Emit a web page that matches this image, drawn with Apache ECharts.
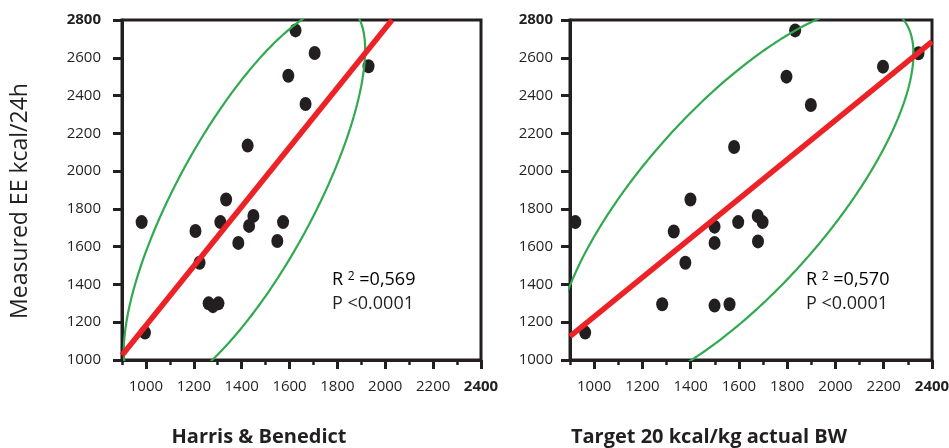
<!DOCTYPE html>
<html><head><meta charset="utf-8">
<script src="https://cdn.jsdelivr.net/npm/echarts@6/dist/echarts.min.js"></script>
<style>html,body{margin:0;padding:0;background:#fff}#c{width:949px;height:448px}</style>
</head><body><div id="c"></div>
<script>
// ---- data ----
const hbX = [1625,1705,1595,1930,1667,1425,1335,982,1207,1311,1449,1431,1386,1573,1549,1224,1262,1303,1280,996];
const hbY = [2745,2625,2505,2555,2355,2135,1850,1730,1683,1730,1763,1710,1620,1730,1630,1515,1300,1300,1285,1145];
const tgX = [1833,1797,1898,1580,1399,922,963,1330,1378,1282,1499,1499,1499,1561,1597,1678,1698,1679,2197,2344];
const tgY = [2745,2500,2350,2128,1850,1730,1145,1680,1515,1295,1706,1620,1288,1295,1730,1762,1730,1628,2553,2624];
const hbLineX = [900, 2028];
const hbLineY = [1025, 2800];
const tgLineX = [900, 2400];
const tgLineY = [1125, 2685];
const ellipseLevel = 0.90;   // density ellipse coverage
const yTicks = [1000,1200,1400,1600,1800,2000,2200,2400,2600,2800];
const xMajorTicks = [1000,1200,1400,1600,1800,2000,2200,2400];
const xMinorTicks = [900,1100,1300,1500,1700,1900,2100,2300];
const panelTitles = ['Harris & Benedict', 'Target 20 kcal/kg actual BW'];
const r2Values = ['0,569', '0,570'];
const pValues = ['<0.0001', '<0.0001'];
const yTitle = 'Measured EE kcal/24h';

// ---- drawing ----
const ink = '#231f20', red = '#ec2227', green = '#30a94f', F = '"Open Sans", sans-serif';
const zip = (a, b) => a.map((v, i) => [v, b[i]]);
// bivariate-normal density ellipse computed from the points
function densityEllipse(xs, ys, level, n) {
  const N = xs.length;
  const mx = xs.reduce((s, v) => s + v, 0) / N, my = ys.reduce((s, v) => s + v, 0) / N;
  let sxx = 0, syy = 0, sxy = 0;
  for (let i = 0; i < N; i++) { const dx = xs[i] - mx, dy = ys[i] - my; sxx += dx * dx; syy += dy * dy; sxy += dx * dy; }
  sxx /= N - 1; syy /= N - 1; sxy /= N - 1;
  const a = Math.sqrt(sxx), b = sxy / a, c = Math.sqrt(Math.max(syy - b * b, 0));
  const k = Math.sqrt(-2 * Math.log(1 - level));
  const out = [];
  for (let i = 0; i <= n; i++) {
    const t = 2 * Math.PI * i / n, co = Math.cos(t), si = Math.sin(t);
    out.push([mx + k * a * co, my + k * (b * co + c * si)]);
  }
  return out;
}
const rich = { b: { fontWeight: 'bold', fontSize: 15, fontFamily: F, color: ink } };
function xAxes(gi) {
  return [{
    type: 'value', gridIndex: gi, min: 900, max: 2400, interval: 100, position: 'bottom',
    axisLine: { show: true, onZero: false, lineStyle: { color: ink, width: 3 } },
    axisTick: { show: true, customValues: xMajorTicks, length: 9, lineStyle: { color: ink, width: 3 } },
    axisLabel: { customValues: xMajorTicks, margin: 19, fontSize: 15, color: ink, fontFamily: F,
      formatter: v => v === 2400 ? '{b|2400}' : String(v), rich },
    splitLine: { show: false }
  }, {
    type: 'value', gridIndex: gi, min: 900, max: 2400, interval: 100, position: 'bottom',
    axisLine: { show: false, onZero: false },
    axisTick: { show: true, customValues: xMinorTicks, length: 5, lineStyle: { color: ink, width: 2.5 } },
    axisLabel: { show: false }, splitLine: { show: false }
  }];
}
function yAxis(gi, margin) {
  return {
    type: 'value', gridIndex: gi, min: 1000, max: 2800, interval: 200,
    axisLine: { show: true, onZero: false, lineStyle: { color: ink, width: 3 } },
    axisTick: { show: true, customValues: yTicks, length: 9, lineStyle: { color: ink, width: 3 } },
    axisLabel: { customValues: yTicks, margin, fontSize: 15, color: ink, fontFamily: F,
      formatter: v => v === 2800 ? '{b|2800}' : String(v), rich },
    splitLine: { show: false }
  };
}
function panel(gi, xs, ys, lx, ly) {
  return [
    { type: 'scatter', xAxisIndex: gi * 2, yAxisIndex: gi, data: zip(xs, ys), symbol: 'circle',
      symbolSize: [12, 14], itemStyle: { color: ink, opacity: 1 }, z: 2, silent: true },
    { type: 'line', xAxisIndex: gi * 2, yAxisIndex: gi, data: densityEllipse(xs, ys, ellipseLevel, 360), showSymbol: false,
      lineStyle: { color: green, width: 2.2 }, z: 3, clip: true, silent: true },
    { type: 'line', xAxisIndex: gi * 2, yAxisIndex: gi, data: zip(lx, ly), showSymbol: false,
      lineStyle: { color: red, width: 5.5 }, z: 4, clip: true, silent: true }
  ];
}
const statText = (i, x) => [
  { type: 'text', x, y: 280, style: { text: '{t|R }{s|2}{t| =' + r2Values[i] + '}', verticalAlign: 'middle',
      rich: { t: { fontSize: 18, fontFamily: F, color: ink }, s: { fontSize: 12, fontFamily: F, color: ink, verticalAlign: 'top' } } } },
  { type: 'text', x, y: 304, style: { text: 'P ' + pValues[i], fontSize: 18, fontFamily: F, fill: ink, verticalAlign: 'middle' } }
];

const chart = echarts.init(document.getElementById('c'), null, { renderer: 'canvas' });
chart.setOption({
  animation: false,
  backgroundColor: '#fff',
  grid: [
    { left: 122, top: 20, width: 359, height: 340, show: true, borderColor: ink, borderWidth: 3, outerBoundsMode: 'none', containLabel: false },
    { left: 570, top: 20, width: 362, height: 340, show: true, borderColor: ink, borderWidth: 3, outerBoundsMode: 'none', containLabel: false }
  ],
  xAxis: [...xAxes(0), ...xAxes(1)],
  yAxis: [yAxis(0, 21), yAxis(1, 17)],
  series: [
    ...panel(0, hbX, hbY, hbLineX, hbLineY),
    ...panel(1, tgX, tgY, tgLineX, tgLineY)
  ],
  graphic: [
    { type: 'text', x: 20, y: 201, rotation: Math.PI / 2,
      style: { text: yTitle, fontSize: 23, fontFamily: F, fill: ink, align: 'center', verticalAlign: 'middle' } },
    { type: 'text', x: 259, y: 437, style: { text: panelTitles[0], fontSize: 20, fontWeight: 'bold', fontFamily: F, fill: ink, align: 'center', verticalAlign: 'middle' } },
    { type: 'text', x: 709, y: 437, style: { text: panelTitles[1], fontSize: 20, fontWeight: 'bold', fontFamily: F, fill: ink, align: 'center', verticalAlign: 'middle' } },
    ...statText(0, 332),
    ...statText(1, 806)
  ]
});
</script>
</body></html>
